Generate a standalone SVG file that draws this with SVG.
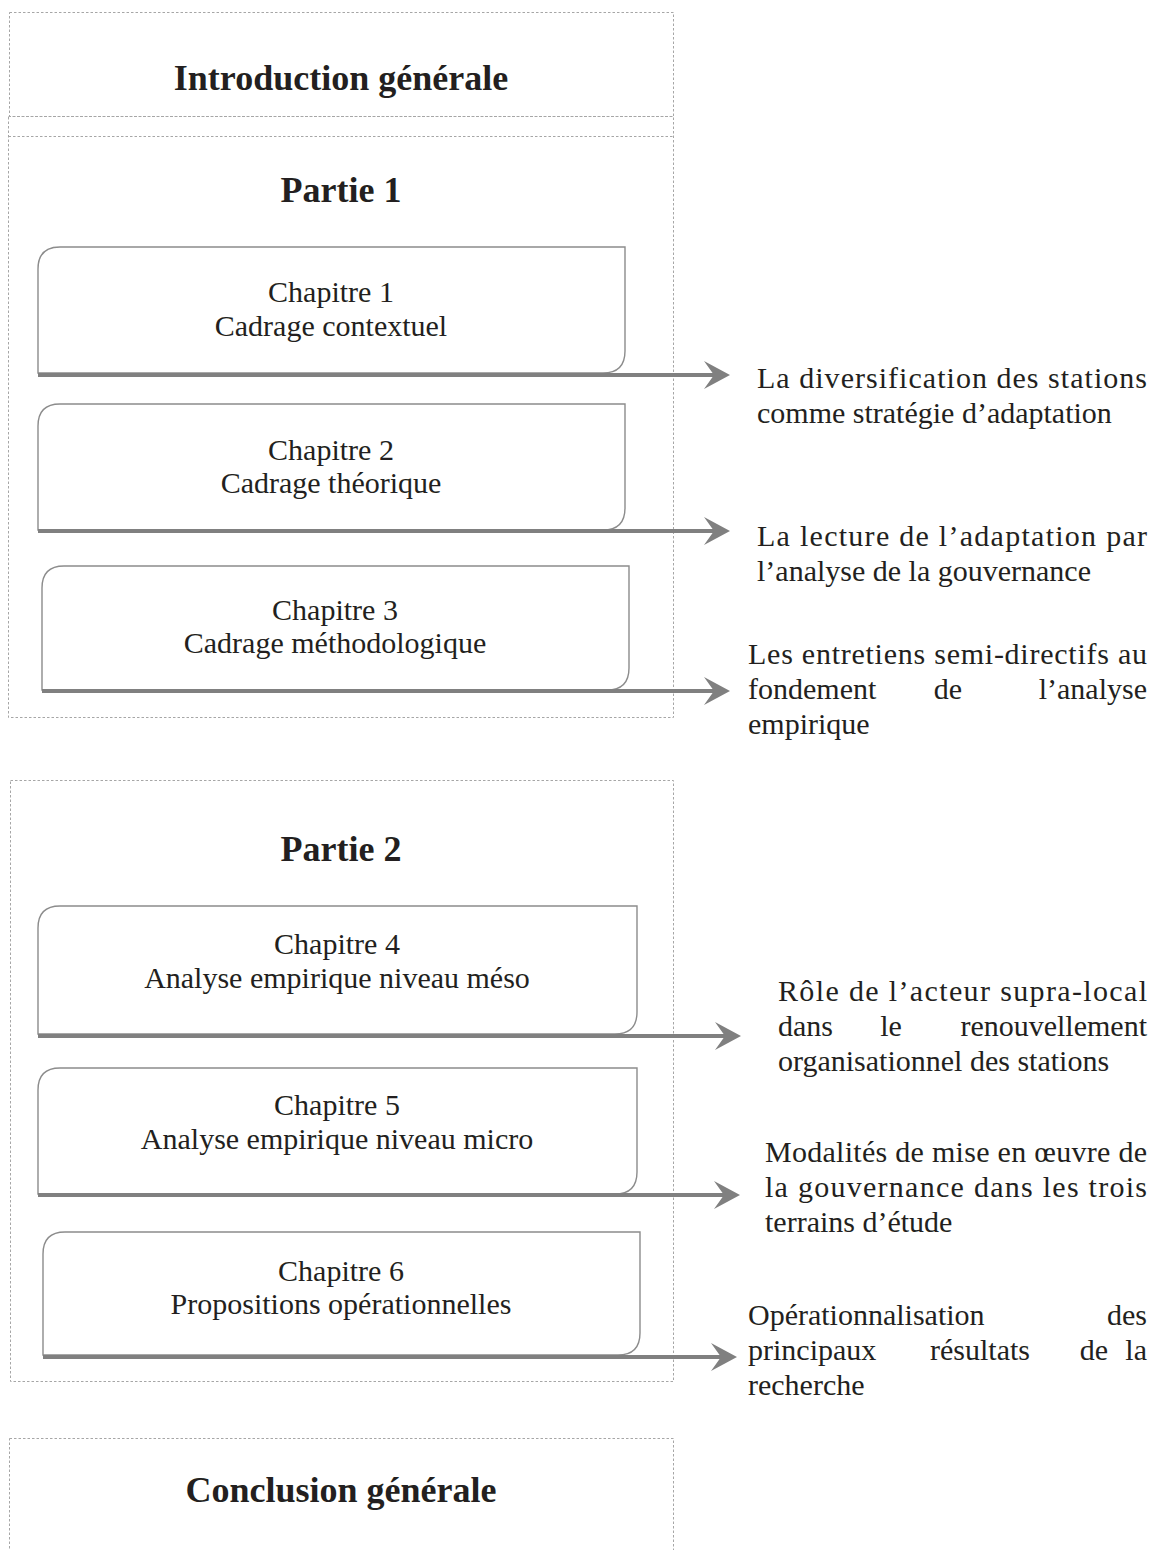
<svg xmlns="http://www.w3.org/2000/svg" width="1161" height="1550" viewBox="0 0 1161 1550">
<style>
.frame{fill:none;stroke:#a6a6a6;stroke-width:1;stroke-dasharray:2.5 2}
.box{fill:#fff;stroke:#8c8c8c;stroke-width:1.4}
.conn{fill:none;stroke:#808080;stroke-width:4}
text{font-family:"Liberation Serif","Times New Roman",Times,serif;fill:#231f20}
.title{font-weight:bold;font-size:36px;text-anchor:middle}
.ch{font-size:30px;text-anchor:middle}
.side{font-size:30px}
</style>
<defs>
<marker id="ah" markerUnits="userSpaceOnUse" markerWidth="30" markerHeight="32" viewBox="0 -16 30 32" refX="12" refY="0" orient="auto">
<path d="M0,-14 L26,0 L0,14 L10,0 Z" fill="#808080"/>
</marker>
</defs>
<rect width="1161" height="1550" fill="#fff"/>

<g id="intro">
<rect class="frame" x="9.5" y="12.5" width="664" height="104"/>
<text class="title" x="341" y="90">Introduction générale</text>
</g>

<g id="partie1">
<rect class="frame" x="8.5" y="116.5" width="665" height="601"/>
<line class="frame" x1="8.5" y1="136.5" x2="673.5" y2="136.5"/>
<text class="title" x="341" y="202">Partie 1</text>
</g>

<g id="chapitre1">
<path class="box" d="M38,373 L38,269 Q38,247 60,247 L625,247 L625,351 Q625,373 603,373 Z"/>
<text class="ch" x="331" y="302">Chapitre 1</text>
<text class="ch" x="331" y="336">Cadrage contextuel</text>
</g>
<g id="chapitre2">
<path class="box" d="M38,530 L38,426 Q38,404 60,404 L625,404 L625,508 Q625,530 603,530 Z"/>
<text class="ch" x="331" y="460">Chapitre 2</text>
<text class="ch" x="331" y="493">Cadrage théorique</text>
</g>
<g id="chapitre3">
<path class="box" d="M42,690 L42,588 Q42,566 64,566 L629,566 L629,668 Q629,690 607,690 Z"/>
<text class="ch" x="335" y="620">Chapitre 3</text>
<text class="ch" x="335" y="653">Cadrage méthodologique</text>
</g>

<g id="partie2">
<rect class="frame" x="10.5" y="780.5" width="663" height="601"/>
<text class="title" x="341" y="861">Partie 2</text>
</g>

<g id="chapitre4">
<path class="box" d="M38,1034 L38,928 Q38,906 60,906 L637,906 L637,1012 Q637,1034 615,1034 Z"/>
<text class="ch" x="337" y="954">Chapitre 4</text>
<text class="ch" x="337" y="988">Analyse empirique niveau méso</text>
</g>
<g id="chapitre5">
<path class="box" d="M38,1194 L38,1090 Q38,1068 60,1068 L637,1068 L637,1172 Q637,1194 615,1194 Z"/>
<text class="ch" x="337" y="1115">Chapitre 5</text>
<text class="ch" x="337" y="1149">Analyse empirique niveau micro</text>
</g>
<g id="chapitre6">
<path class="box" d="M43,1355 L43,1254 Q43,1232 65,1232 L640,1232 L640,1333 Q640,1355 618,1355 Z"/>
<text class="ch" x="341" y="1281">Chapitre 6</text>
<text class="ch" x="341" y="1314">Propositions opérationnelles</text>
</g>

<g id="conclusion">
<rect class="frame" x="9.5" y="1438.5" width="664" height="120"/>
<text class="title" x="341" y="1502">Conclusion générale</text>
</g>

<g id="connectors">
<line class="conn" x1="38" y1="375" x2="716" y2="375" marker-end="url(#ah)"/>
<line class="conn" x1="38" y1="531" x2="716" y2="531" marker-end="url(#ah)"/>
<line class="conn" x1="42" y1="691" x2="716" y2="691" marker-end="url(#ah)"/>
<line class="conn" x1="38" y1="1036" x2="727" y2="1036" marker-end="url(#ah)"/>
<line class="conn" x1="38" y1="1195" x2="726" y2="1195" marker-end="url(#ah)"/>
<line class="conn" x1="43" y1="1357" x2="723" y2="1357" marker-end="url(#ah)"/>
</g>

<g id="texte1">
<text class="side" x="757" y="388" textLength="390" lengthAdjust="spacing">La diversification des stations</text>
<text class="side" x="757" y="423">comme stratégie d’adaptation</text>
</g>
<g id="texte2">
<text class="side" x="757" y="546" textLength="390" lengthAdjust="spacing">La lecture de l’adaptation par</text>
<text class="side" x="757" y="581">l’analyse de la gouvernance</text>
</g>
<g id="texte3">
<text class="side" x="748" y="664" textLength="399" lengthAdjust="spacing">Les entretiens semi-directifs au</text>
<text class="side" x="748" y="699">fondement</text>
<text class="side" x="948" y="699" text-anchor="middle">de</text>
<text class="side" x="1147" y="699" text-anchor="end">l’analyse</text>
<text class="side" x="748" y="734">empirique</text>
</g>
<g id="texte4">
<text class="side" x="778" y="1001" textLength="369" lengthAdjust="spacing">Rôle de l’acteur supra-local</text>
<text class="side" x="778" y="1036">dans</text>
<text class="side" x="891" y="1036" text-anchor="middle">le</text>
<text class="side" x="1147" y="1036" text-anchor="end">renouvellement</text>
<text class="side" x="778" y="1071">organisationnel des stations</text>
</g>
<g id="texte5">
<text class="side" x="765" y="1162" textLength="382" lengthAdjust="spacing">Modalités de mise en œuvre de</text>
<text class="side" x="765" y="1197" textLength="382" lengthAdjust="spacing">la gouvernance dans les trois</text>
<text class="side" x="765" y="1232">terrains d’étude</text>
</g>
<g id="texte6">
<text class="side" x="748" y="1325">Opérationnalisation</text>
<text class="side" x="1147" y="1325" text-anchor="end">des</text>
<text class="side" x="748" y="1360">principaux</text>
<text class="side" x="980" y="1360" text-anchor="middle">résultats</text>
<text class="side" x="1094" y="1360" text-anchor="middle">de</text>
<text class="side" x="1147" y="1360" text-anchor="end">la</text>
<text class="side" x="748" y="1395">recherche</text>
</g>
</svg>
